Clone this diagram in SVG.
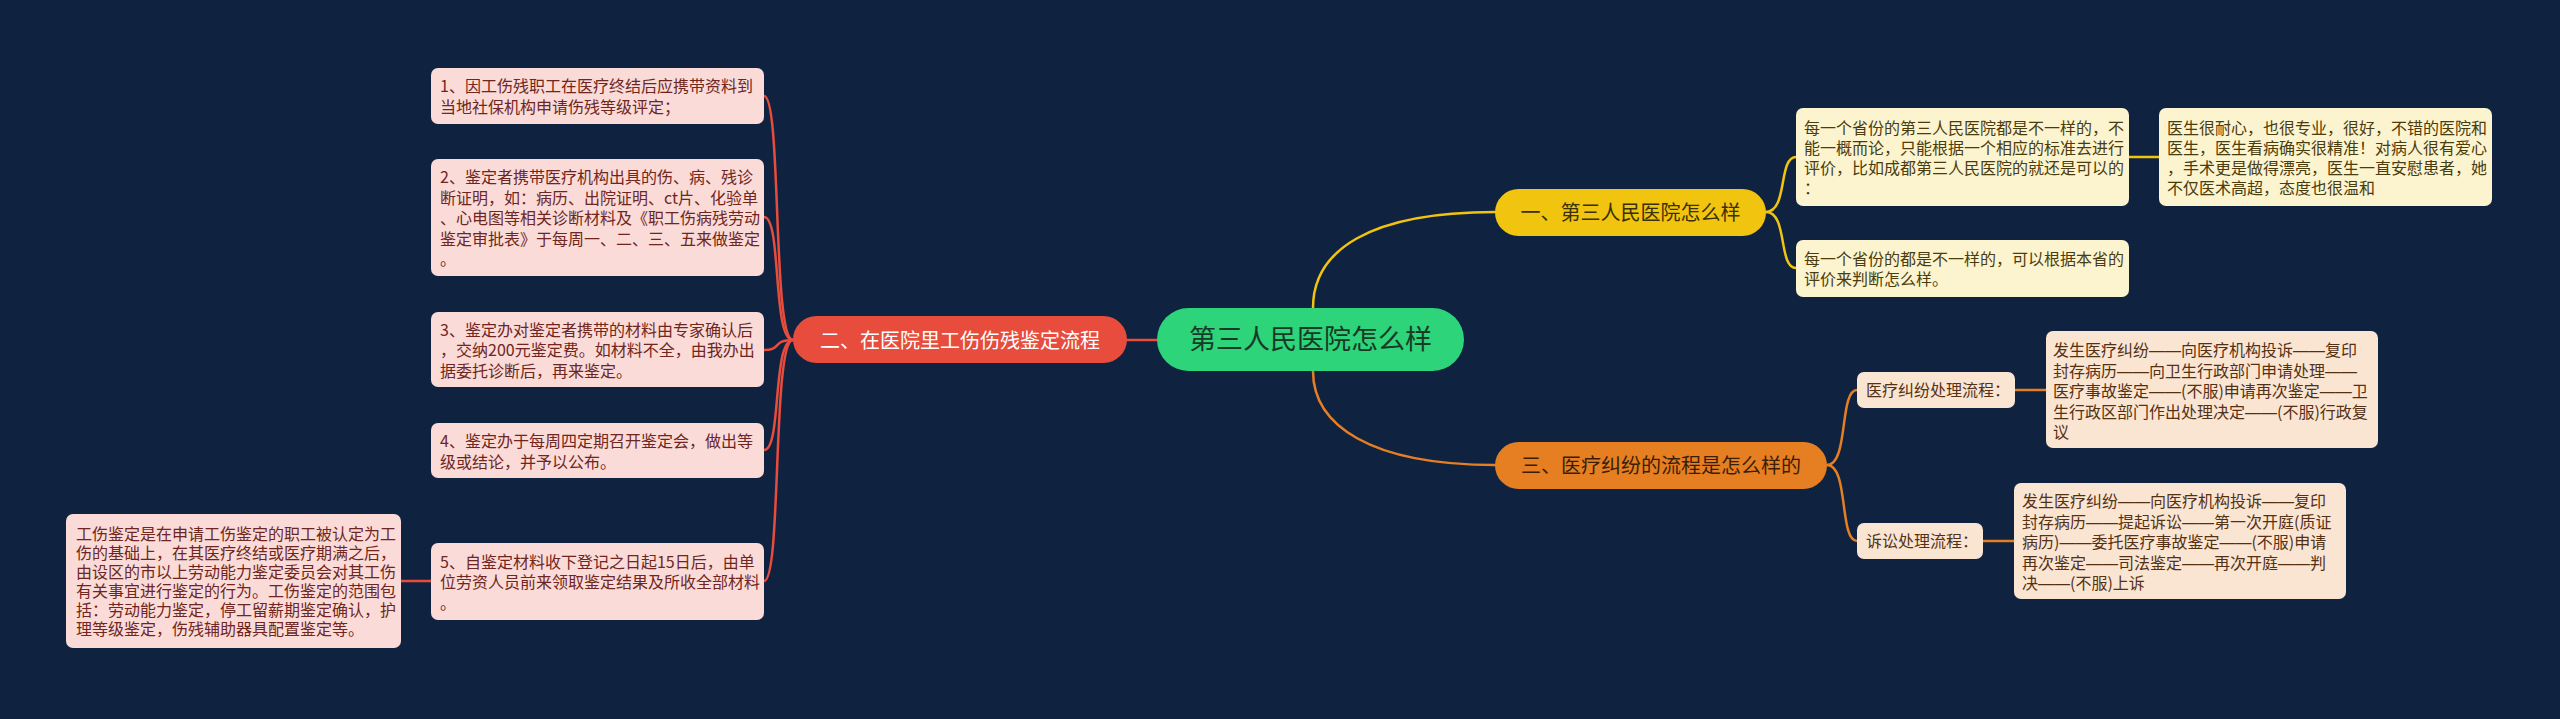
<svg xmlns="http://www.w3.org/2000/svg" width="2560" height="719" viewBox="0 0 2560 719">
<style>
text{font-family:"Noto Sans CJK SC","Noto Sans",sans-serif;}
.d{font-family:"Liberation Sans",sans-serif}
.c{fill:none;stroke-width:2.5;stroke-linecap:round}
.cr{stroke:#e74c3c}.cy{stroke:#f1c40f}.co{stroke:#e67e22}
.lr{fill:#fadbd8}.ly{fill:#fcf3cf}.lo{fill:#fae5d3}
.tr{font-size:16px;fill:#6f2620}
.ty{font-size:16px;fill:#4a3c0c}
.to{font-size:16px;fill:#553114}
.main{font-size:20px;text-anchor:middle}
</style>
<rect x="0" y="0" width="2560" height="719" fill="#0f2340"/>

<g id="connectors">
<line class="c cr" x1="1157" y1="340" x2="1127" y2="340"/>
<path class="c cy" d="M1313 308 C1313 250 1370 212 1495 212"/>
<path class="c co" d="M1313 371 C1313 425 1370 465 1495 465"/>
<path class="c cr" d="M793 340 C772 340 782 96 764 96"/>
<path class="c cr" d="M793 340 C772 340 782 217 764 217"/>
<path class="c cr" d="M793 340 C772 340 782 350 764 350"/>
<path class="c cr" d="M793 340 C772 340 782 450 764 450"/>
<path class="c cr" d="M793 340 C772 340 782 581 764 581"/>
<line class="c cr" x1="431" y1="581" x2="401" y2="581"/>
<path class="c cy" d="M1766 212 C1788 212 1778 157 1796 157"/>
<path class="c cy" d="M1766 212 C1788 212 1778 268 1796 268"/>
<line class="c cy" x1="2129" y1="157" x2="2159" y2="157"/>
<path class="c co" d="M1827 465 C1849 465 1839 390 1857 390"/>
<path class="c co" d="M1827 465 C1849 465 1839 541 1857 541"/>
<line class="c co" x1="2015" y1="390" x2="2046" y2="390"/>
<line class="c co" x1="1983" y1="541" x2="2014" y2="541"/>
</g>

<g id="center">
<rect x="1157" y="308" width="307" height="63" rx="31.5" fill="#2ed47a"/>
<text x="1310.5" y="349" font-size="27" text-anchor="middle" fill="#173b26">第三人民医院怎么样</text>
</g>

<g id="branch2">
<rect x="793" y="316" width="334" height="47" rx="23.5" fill="#e74c3c"/>
<text class="main" x="960" y="347.5" fill="#ffffff">二、在医院里工伤伤残鉴定流程</text>
</g>

<g id="branch1">
<rect x="1495" y="189" width="271" height="47" rx="23.5" fill="#f1c40f"/>
<text class="main" x="1630.5" y="220" fill="#3a3005">一、第三人民医院怎么样</text>
</g>

<g id="branch3">
<rect x="1495" y="442" width="332" height="47" rx="23.5" fill="#e67e22"/>
<text class="main" x="1661" y="472.5" fill="#3a1e06">三、医疗纠纷的流程是怎么样的</text>
</g>

<g id="l1">
<rect class="lr" x="431" y="68" width="333" height="56" rx="7"/>
<text class="tr" x="440"><tspan x="440" y="92">1、因工伤残职工在医疗终结后应携带资料到</tspan><tspan x="440" y="112.5">当地社保机构申请伤残等级评定；</tspan></text>
</g>
<g id="l2">
<rect class="lr" x="431" y="159" width="333" height="117" rx="7"/>
<text class="tr"><tspan x="440" y="183">2、鉴定者携带医疗机构出具的伤、病、残诊</tspan><tspan x="440" y="203.5">断证明，如：病历、出院证明、ct片、化验单</tspan><tspan x="440" y="224">、心电图等相关诊断材料及《职工伤病残劳动</tspan><tspan x="440" y="244.5">鉴定审批表》于每周一、二、三、五来做鉴定</tspan><tspan x="440" y="265">。</tspan></text>
</g>
<g id="l3">
<rect class="lr" x="431" y="312" width="333" height="75" rx="7"/>
<text class="tr"><tspan x="440" y="335.5">3、鉴定办对鉴定者携带的材料由专家确认后</tspan><tspan x="440" y="356">，交纳200元鉴定费。如材料不全，由我办出</tspan><tspan x="440" y="376.5">据委托诊断后，再来鉴定。</tspan></text>
</g>
<g id="l4">
<rect class="lr" x="431" y="423" width="333" height="55" rx="7"/>
<text class="tr"><tspan x="440" y="447">4、鉴定办于每周四定期召开鉴定会，做出等</tspan><tspan x="440" y="467.5">级或结论，并予以公布。</tspan></text>
</g>
<g id="l5">
<rect class="lr" x="431" y="543" width="333" height="77" rx="7"/>
<text class="tr"><tspan x="440" y="567.5">5、自鉴定材料收下登记之日起15日后，由单</tspan><tspan x="440" y="588">位劳资人员前来领取鉴定结果及所收全部材料</tspan><tspan x="440" y="608.5">。</tspan></text>
</g>
<g id="l5a">
<rect class="lr" x="66" y="514" width="335" height="134" rx="7"/>
<text class="tr"><tspan x="76" y="539.5">工伤鉴定是在申请工伤鉴定的职工被认定为工</tspan><tspan x="76" y="558.5">伤的基础上，在其医疗终结或医疗期满之后，</tspan><tspan x="76" y="577.5">由设区的市以上劳动能力鉴定委员会对其工伤</tspan><tspan x="76" y="596.5">有关事宜进行鉴定的行为。工伤鉴定的范围包</tspan><tspan x="76" y="615.5">括：劳动能力鉴定，停工留薪期鉴定确认，护</tspan><tspan x="76" y="634.5">理等级鉴定，伤残辅助器具配置鉴定等。</tspan></text>
</g>

<g id="r1a">
<rect class="ly" x="1796" y="108" width="333" height="98" rx="7"/>
<text class="ty"><tspan x="1804" y="134">每一个省份的第三人民医院都是不一样的，不</tspan><tspan x="1804" y="154">能一概而论，只能根据一个相应的标准去进行</tspan><tspan x="1804" y="174">评价，比如成都第三人民医院的就还是可以的</tspan><tspan x="1804" y="194">：</tspan></text>
</g>
<g id="r1a1">
<rect class="ly" x="2159" y="108" width="333" height="98" rx="7"/>
<text class="ty"><tspan x="2167" y="134">医生很耐心，也很专业，很好，不错的医院和</tspan><tspan x="2167" y="154">医生，医生看病确实很精准！对病人很有爱心</tspan><tspan x="2167" y="174">，手术更是做得漂亮，医生一直安慰患者，她</tspan><tspan x="2167" y="194">不仅医术高超，态度也很温和</tspan></text>
</g>
<g id="r1b">
<rect class="ly" x="1796" y="240" width="333" height="57" rx="7"/>
<text class="ty"><tspan x="1804" y="265">每一个省份的都是不一样的，可以根据本省的</tspan><tspan x="1804" y="285">评价来判断怎么样。</tspan></text>
</g>

<g id="r3s1">
<rect class="lo" x="1857" y="372" width="158" height="36" rx="7"/>
<text class="to" x="1866" y="395.5">医疗纠纷处理流程：</text>
</g>
<g id="r3s2">
<rect class="lo" x="1857" y="523" width="126" height="36" rx="7"/>
<text class="to" x="1866" y="547">诉讼处理流程：</text>
</g>
<g id="r3a">
<rect class="lo" x="2046" y="331" width="332" height="117" rx="7"/>
<text class="to"><tspan x="2053" y="356">发生医疗纠纷<tspan class="d">——</tspan>向医疗机构投诉<tspan class="d">——</tspan>复印</tspan><tspan x="2053" y="376.5">封存病历<tspan class="d">——</tspan>向卫生行政部门申请处理<tspan class="d">——</tspan></tspan><tspan x="2053" y="397">医疗事故鉴定<tspan class="d">——</tspan>(不服)申请再次鉴定<tspan class="d">——</tspan>卫</tspan><tspan x="2053" y="417.5">生行政区部门作出处理决定<tspan class="d">——</tspan>(不服)行政复</tspan><tspan x="2053" y="438">议</tspan></text>
</g>
<g id="r3b">
<rect class="lo" x="2014" y="483" width="332" height="116" rx="7"/>
<text class="to"><tspan x="2022" y="507">发生医疗纠纷<tspan class="d">——</tspan>向医疗机构投诉<tspan class="d">——</tspan>复印</tspan><tspan x="2022" y="527.5">封存病历<tspan class="d">——</tspan>提起诉讼<tspan class="d">——</tspan>第一次开庭(质证</tspan><tspan x="2022" y="548">病历)<tspan class="d">——</tspan>委托医疗事故鉴定<tspan class="d">——</tspan>(不服)申请</tspan><tspan x="2022" y="568.5">再次鉴定<tspan class="d">——</tspan>司法鉴定<tspan class="d">——</tspan>再次开庭<tspan class="d">——</tspan>判</tspan><tspan x="2022" y="589">决<tspan class="d">——</tspan>(不服)上诉</tspan></text>
</g>
</svg>
